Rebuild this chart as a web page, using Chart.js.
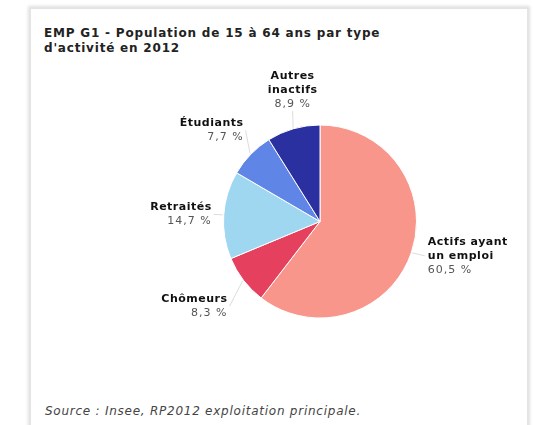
<!DOCTYPE html>
<html>
<head>
<meta charset="utf-8">
<script src="https://cdn.jsdelivr.net/npm/chart.js@4/dist/chart.umd.min.js"></script>
<style>
  html, body { margin: 0; padding: 0; background: #fff; }
  body { width: 533px; height: 425px; overflow: hidden; position: relative; font-family: 'DejaVu Sans', Verdana, sans-serif; }
  .card { position: absolute; left: 30px; top: 8px; width: 496px; height: 430px; background: #fff;
    border: 1px solid #e4e4e4; box-shadow: 0 0 3px 2px #e0e0e0; }
  .title { position: absolute; left: 13px; top: 17px; font-size: 12px; letter-spacing: 0.8px; font-weight: bold; line-height: 15px; color: #222; }
  .source { position: absolute; left: 14px; top: 395px; font-size: 12px; letter-spacing: 0.75px; font-style: italic; color: #444; }
  #wrap { position: absolute; left: 0; top: 55px; width: 496px; height: 320px; }
</style>
</head>
<body>
<div class="card">
  <div class="title">EMP G1 - Population de 15 à 64 ans par type<br>d'activité en 2012</div>
  <div id="wrap"><canvas id="pie"></canvas></div>
  <div class="source">Source : Insee, RP2012 exploitation principale.</div>
</div>
<script>
const categories = [['Actifs ayant', 'un emploi'], ['Chômeurs'], ['Retraités'], ['Étudiants'], ['Autres', 'inactifs']];
const values = [60.5, 8.3, 14.7, 7.7, 8.9];
const valueLabels = ['60,5 %', '8,3 %', '14,7 %', '7,7 %', '8,9 %'];
const colors = ['#f9968b', '#e5415e', '#9fd6f0', '#5f86e6', '#2b30a0'];
// small nudges so the labels sit like the original
const labelNudge = [[4, 0], [-6, 20], [0, 0], [2, -17], [2, -8]];

const outsideLabels = {
  id: 'outsideLabels',
  afterDatasetsDraw(chart) {
    const ctx = chart.ctx;
    const meta = chart.getDatasetMeta(0);
    meta.data.forEach(function (arc, i) {
      const mid = (arc.startAngle + arc.endAngle) / 2;
      const r = arc.outerRadius;
      const cx = arc.x, cy = arc.y;
      const ex = cx + Math.cos(mid) * (r + 1), ey = cy + Math.sin(mid) * (r + 1);
      let ax = cx + Math.cos(mid) * (r + 10) + labelNudge[i][0];
      let ay = cy + Math.sin(mid) * (r + 10) + labelNudge[i][1];
      ctx.save();
      ctx.strokeStyle = '#dcdcdc';
      ctx.lineWidth = 1;
      ctx.beginPath();
      ctx.moveTo(ex, ey);
      ctx.lineTo(ax, ay);
      ctx.stroke();

      const lines = categories[i].concat([valueLabels[i]]);
      const lh = 14;
      const top = Math.abs(Math.cos(mid)) < 0.3 && Math.sin(mid) < 0;
      let align = Math.cos(mid) > 0 ? 'left' : 'right';
      let y0;
      if (top) {
        align = 'center';
        y0 = ay - lines.length * lh;
      } else {
        y0 = ay - lines.length * lh / 2;
      }
      const tx = align === 'left' ? ax + 3 : (align === 'right' ? ax - 2 : ax);
      ctx.textAlign = align;
      ctx.textBaseline = 'middle';
      lines.forEach(function (t, k) {
        const last = k === lines.length - 1;
        ctx.font = (last ? '' : 'bold ') + '11px "DejaVu Sans", Verdana, sans-serif';
        ctx.letterSpacing = last ? '1px' : '0.5px';
        ctx.fillStyle = last ? '#555' : '#111';
        ctx.fillText(t, tx, y0 + lh * k + lh / 2);
      });
      ctx.restore();
    });
  }
};

new Chart(document.getElementById('pie').getContext('2d'), {
  type: 'pie',
  data: {
    labels: categories.map(function (c) { return c.join(' '); }),
    datasets: [{
      data: values,
      backgroundColor: colors,
      borderColor: '#fff',
      borderWidth: 1
    }]
  },
  options: {
    responsive: true,
    maintainAspectRatio: false,
    animation: false,
    layout: { padding: { left: 192, right: 110, top: 59, bottom: 64 } },
    plugins: {
      legend: { display: false },
      tooltip: { enabled: false }
    }
  },
  plugins: [outsideLabels]
});
</script>
</body>
</html>
